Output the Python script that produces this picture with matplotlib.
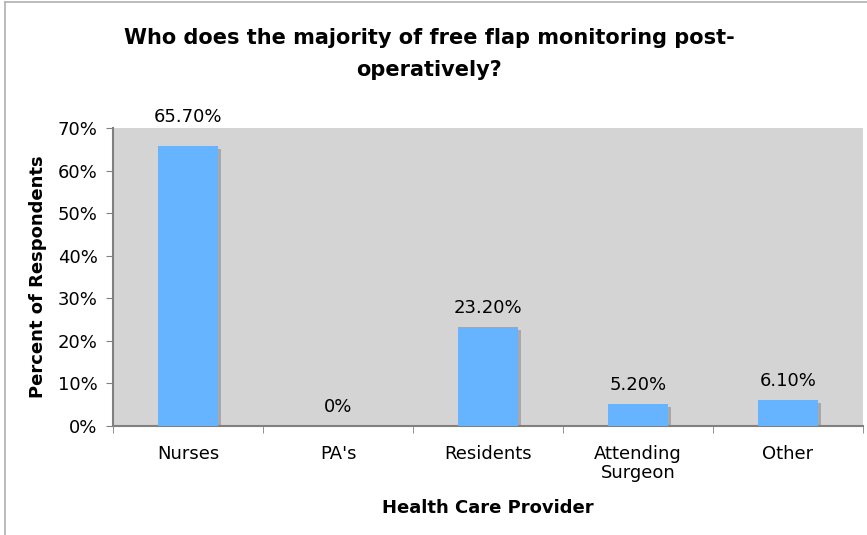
import matplotlib.pyplot as plt
from matplotlib.lines import Line2D
from matplotlib.ticker import FuncFormatter, MultipleLocator

providers = ["Nurses", "PA's", "Residents", "Attending\nSurgeon", "Other"]
percents = [65.7, 0.0, 23.2, 5.2, 6.1]
value_labels = ["65.70%", "0%", "23.20%", "5.20%", "6.10%"]

fig = plt.figure(figsize=(8.67, 5.35), dpi=100)
ax = fig.add_axes([113 / 867, 1 - 426 / 535, 750 / 867, 298 / 535])
ax.set_facecolor("#d4d4d4")

x = range(len(providers))
width = 0.4
# drop shadow behind each bar
shadow_dx = 3 / 150
ax.bar([i + shadow_dx for i in x], [max(p - 0.7, 0) for p in percents], width=width,
       color="#a8a8a8", zorder=2)
ax.bar(x, percents, width=width, color="#66b3ff", zorder=3)

ymax = 70
for i, (p, lab) in enumerate(zip(percents, value_labels)):
    y = p + 4.5
    if y > ymax - 2:
        # label would run into the top of the plot area, push it above
        y = ymax + 2.6
    ax.text(i, y, lab, ha="center", va="center", fontsize=13, color="black", clip_on=False)

ax.set_xlim(-0.5, len(providers) - 0.5)
ax.set_ylim(0, ymax)
ax.yaxis.set_major_locator(MultipleLocator(10))
ax.yaxis.set_major_formatter(FuncFormatter(lambda v, _: f"{v:.0f}%"))
ax.set_xticks(list(x))
ax.set_xticklabels(providers, fontsize=13, linespacing=1.05)
ax.set_xticks([i + 0.5 for i in range(-1, len(providers))], minor=True)
ax.tick_params(axis="x", which="major", length=0, pad=14)
ax.tick_params(axis="x", which="minor", length=5, color="#808080", direction="out")
ax.tick_params(axis="y", length=5, color="#808080", labelsize=13, pad=6)

for side in ["top", "right"]:
    ax.spines[side].set_visible(False)
ax.spines["left"].set_color("#808080")
ax.spines["bottom"].set_color("#808080")
ax.spines["left"].set_linewidth(1.5)
ax.spines["bottom"].set_linewidth(1.5)

ax.set_ylabel("Percent of Respondents", fontsize=13, fontweight="bold", labelpad=8)
ax.set_xlabel("Health Care Provider", fontsize=13, fontweight="bold", labelpad=12)

fig.text(0.495, 1 - 54 / 535, "Who does the majority of free flap monitoring post-\noperatively?",
         ha="center", va="center", fontsize=15, fontweight="bold", linespacing=1.7)

# outer chart frame
fig.add_artist(Line2D([5 / 867, 1], [1 - 2 / 535, 1 - 2 / 535], color="#b0b0b0", lw=1.2))
fig.add_artist(Line2D([5 / 867, 5 / 867], [0, 1 - 2 / 535], color="#b0b0b0", lw=1.2))

fig.savefig("out.png", dpi=100)
